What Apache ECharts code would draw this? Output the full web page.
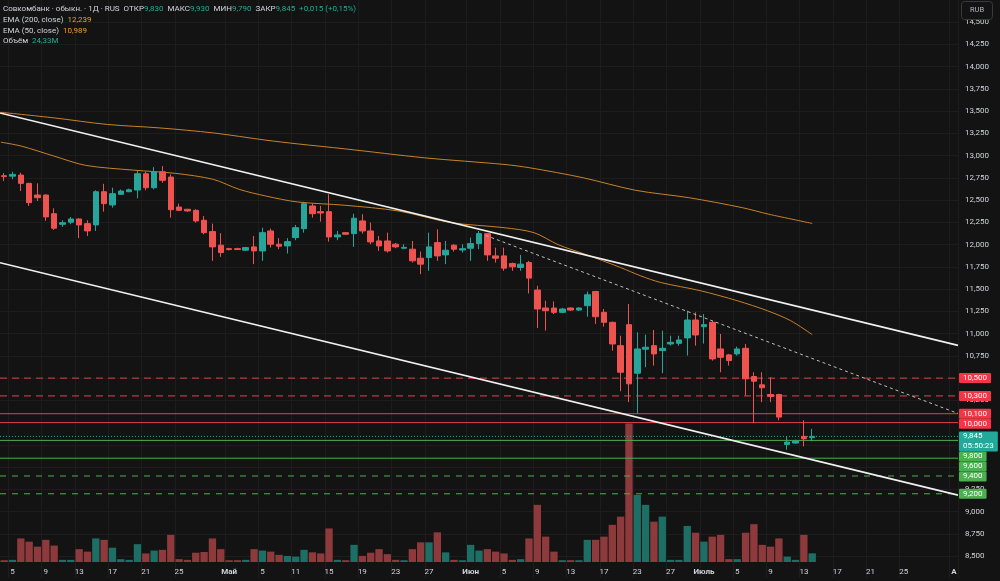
<!DOCTYPE html>
<html>
<head>
<meta charset="utf-8">
<title>Совкомбанк · 1Д</title>
<script src="https://cdn.jsdelivr.net/npm/echarts@6/dist/echarts.min.js"></script>
<style>
    html, body { margin: 0; padding: 0; background: #131313; }
    #chart { width: 1000px; height: 581px; }
</style>
</head>
<body>
<div id="chart"></div>
<script>
    // свечи по дням: [откр, закр, мин, макс]
    var candles = [
        [12775, 12765, 12715, 12805], [12770, 12790, 12735, 12820], [12782, 12689, 12603, 12808], [12689, 12472, 12435, 12696],
        [12558, 12528, 12491, 12689], [12558, 12312, 12267, 12565], [12348, 12185, 12166, 12409], [12229, 12247, 12200, 12274],
        [12252, 12289, 12230, 12311], [12289, 12222, 12073, 12295], [12236, 12155, 12098, 12274], [12222, 12595, 12154, 12611],
        [12595, 12461, 12371, 12684], [12446, 12573, 12416, 12640], [12566, 12603, 12560, 12620], [12595, 12617, 12590, 12630],
        [12614, 12797, 12521, 12835], [12797, 12640, 12611, 12819], [12640, 12819, 12622, 12872], [12819, 12723, 12696, 12883],
        [12760, 12393, 12304, 12790], [12423, 12386, 12379, 12461], [12398, 12379, 12370, 12400], [12386, 12267, 12248, 12398],
        [12274, 12135, 12117, 12323], [12147, 11975, 11818, 12236], [11994, 11911, 11863, 12129], [11955, 11945, 11935, 11965],
        [11955, 11945, 11940, 11965], [11938, 11967, 11930, 11975], [11975, 11930, 11781, 12098], [11930, 12135, 11818, 12191],
        [12154, 12005, 11967, 12180], [12005, 11983, 11949, 12073], [11986, 12034, 11900, 12073], [12079, 12191, 12050, 12222],
        [12180, 12461, 12135, 12483], [12435, 12348, 12304, 12461], [12371, 12356, 12259, 12435], [12371, 12087, 12034, 12566],
        [12087, 12110, 12050, 12154], [12135, 12117, 12110, 12140], [12124, 12297, 11975, 12348], [12267, 12154, 12124, 12342],
        [12154, 12031, 12005, 12248], [12042, 11986, 11930, 12098], [12042, 11930, 11911, 12135], [12005, 11975, 11960, 12020],
        [11960, 11970, 11950, 12005], [11949, 11818, 11799, 12042], [11848, 11781, 11669, 11922], [11855, 11975, 11706, 12135],
        [12023, 11874, 11818, 12173], [11885, 11938, 11781, 12042], [11994, 11949, 11922, 12005], [11940, 11955, 11910, 12005],
        [11960, 12012, 11818, 12080], [12012, 12124, 11949, 12154], [12124, 11885, 11818, 12130], [11874, 11848, 11799, 11967],
        [11874, 11736, 11706, 11967], [11788, 11751, 11706, 11799], [11743, 11781, 11706, 11885], [11799, 11624, 11452, 11818],
        [11490, 11277, 11064, 11538], [11288, 11258, 11034, 11370], [11288, 11239, 11220, 11362], [11239, 11277, 11230, 11290],
        [11288, 11265, 11255, 11295], [11265, 11288, 11255, 11295], [11314, 11437, 11190, 11474], [11474, 11190, 11109, 11480],
        [11239, 11127, 11078, 11277], [11127, 10884, 10809, 11135], [10865, 10566, 10353, 10977], [11101, 10436, 10230, 11333],
        [10555, 10828, 10100, 11015], [10825, 10847, 10622, 10989], [10865, 10772, 10641, 11041], [10809, 10835, 10555, 11034],
        [10884, 10902, 10865, 10977], [10891, 10929, 10865, 10977], [10952, 11153, 10753, 11258], [11153, 10985, 10865, 11239],
        [11078, 11101, 10888, 11220], [11127, 10716, 10697, 11138], [10828, 10734, 10566, 10996], [10761, 10697, 10641, 10772],
        [10772, 10828, 10753, 10854], [10835, 10492, 10305, 10884], [10518, 10465, 9994, 10566], [10425, 10392, 10230, 10566],
        [10316, 10294, 10230, 10510], [10316, 10062, 10025, 10324], [9755, 9781, 9696, 9845], [9770, 9792, 9763, 9808],
        [9845, 9819, 9733, 10025], [9830, 9845, 9790, 9930]
    ];
    // объём, млн
    var volumes = [
        5, 6, 66, 57, 43, 62, 46, 6, 6, 36, 29, 66, 62, 40, 8, 6, 50, 24, 32, 34,
        76, 8, 6, 26, 28, 66, 36, 5, 5, 6, 36, 32, 29, 20, 17, 15, 34, 27, 24, 94,
        6, 5, 48, 17, 26, 36, 22, 6, 5, 36, 55, 55, 83, 27, 6, 5, 48, 32, 36, 29,
        24, 6, 8, 66, 160, 71, 29, 5, 5, 5, 62, 62, 71, 104, 127, 388, 188, 160, 113, 127,
        6, 6, 101, 82, 57, 71, 76, 8, 8, 82, 106, 48, 43, 66, 15, 6, 76, 24.33
    ];
    // EMA: [номер бара, цена]
    var ema200 = [[-0.4, 13488], [6.0, 13425], [12.4, 13351], [18.7, 13312], [25.1, 13256], [31.4, 13175],
        [35.2, 13133], [40.9, 13077], [50.5, 12976], [60.0, 12902], [63.1, 12864], [69.5, 12752],
        [75.8, 12611], [82.2, 12528], [88.6, 12416], [91.8, 12342], [97, 12239]];
    var ema50 = [[-0.4, 13152], [2.1, 13107], [6.0, 12995], [9.8, 12891], [15.5, 12838], [20.6, 12801],
        [25.1, 12734], [28.2, 12622], [31.4, 12547], [35.2, 12480], [40.9, 12443], [47.3, 12379],
        [53.6, 12248], [60.0, 12191], [63.6, 12135], [66.5, 12000], [69.6, 11897], [74.0, 11743],
        [76.4, 11650], [78.8, 11575], [83.6, 11482], [88.0, 11370], [91.6, 11258], [94.4, 11146], [97, 10989]];
    // трендовые линии
    var channelTop = [[-0.5, 13480], [114.5, 10868]];
    var channelBottom = [[-0.5, 11797], [114.5, 9185]];
    var trendDashed = [[57.8, 12104], [114.5, 10103]];
    // уровни
    var redDashed = [10500, 10300];
    var redSolid = [10100, 10000];
    var greenSolid = [9800, 9600];
    var greenDashed = [9400, 9200];
    var lastPrice = 9845;
    var countdown = '05:50:23';
    // подписи оси времени
    var barCount = 115;
    var tickIndex = [1, 5, 9, 13, 17, 21, 27, 31, 35, 39, 43, 47, 51, 56, 60, 64, 68, 72, 76, 80, 84, 88, 92, 96, 100, 104, 108, 114];
    var tickText = ['5', '9', '13', '17', '21', '25', 'Май', '5', '11', '15', '19', '23', '27', 'Июн', '5', '9', '13', '17', '23', '27', 'Июль', '5', '9', '13', '17', '21', '25', 'А'];

    var UP = '#26a69a', DOWN = '#ef5350';
    var FONT = 'Roboto, "Noto Sans", sans-serif';

    var cats = [];
    for (var i = 0; i < barCount; i++) cats.push(String(i));
    var tickMap = {};
    tickIndex.forEach(function (idx, k) { tickMap[idx] = tickText[k]; });
    var isTick = function (idx) { return tickMap[idx] !== undefined; };

    var volData = volumes.map(function (v, k) {
        var c = candles[k];
        return { value: v, itemStyle: { color: c[1] >= c[0] ? '#1d6e64' : '#8e3a3c' } };
    });

    function fmt(v) { return String(v).replace(/\B(?=(\d{3})+(?!\d))/g, ','); }

    // горизонтальный уровень во всю ширину
    function level(price, color, type) {
        return {
            type: 'line', xAxisIndex: 2, yAxisIndex: 0, symbol: 'none', z: 3, silent: true,
            data: [[-0.5, price], [barCount - 0.5, price]],
            lineStyle: { color: color, width: 1, type: type }
        };
    }

    function trend(points, color, width, type) {
        return {
            type: 'line', xAxisIndex: 2, yAxisIndex: 0, data: points, symbol: 'none', z: 5, silent: true,
            lineStyle: { color: color, width: width, type: type }
        };
    }

    var series = [
        {
            name: 'Объём', type: 'bar', xAxisIndex: 1, yAxisIndex: 1, data: volData,
            barWidth: '88%', z: 1, silent: true
        }
    ];
    redDashed.forEach(function (p) { series.push(level(p, '#e0424d', [7, 5])); });
    redSolid.forEach(function (p) { series.push(level(p, '#e0424d', 'solid')); });
    greenSolid.forEach(function (p) { series.push(level(p, '#4caf50', 'solid')); });
    greenDashed.forEach(function (p) { series.push(level(p, '#4caf50', [6, 6])); });
    series.push(level(lastPrice, '#26a69a', [1, 2]));
    series.push({
        name: 'Совкомбанк', type: 'candlestick', xAxisIndex: 0, yAxisIndex: 0, data: candles,
        barWidth: 6, z: 4,
        itemStyle: { color: UP, color0: DOWN, borderColor: UP, borderColor0: DOWN, borderWidth: 1 }
    });
    series.push({
        name: 'EMA 200', type: 'line', xAxisIndex: 2, yAxisIndex: 0, data: ema200, smooth: 0.3,
        symbol: 'none', z: 3, silent: true, lineStyle: { color: '#c98229', width: 1 }
    });
    series.push({
        name: 'EMA 50', type: 'line', xAxisIndex: 2, yAxisIndex: 0, data: ema50, smooth: 0.3,
        symbol: 'none', z: 3, silent: true, lineStyle: { color: '#c98229', width: 1 }
    });
    series.push(trend(channelTop, '#f0f0f0', 1.6, 'solid'));
    series.push(trend(channelBottom, '#f0f0f0', 1.6, 'solid'));
    series.push(trend(trendDashed, '#bdbdbd', 1, [3, 3]));

    var myChart = echarts.init(document.getElementById('chart'));
    var option = {
        backgroundColor: '#131313',
        animation: false,
        grid: [
            { left: -1, right: 42, top: -1.5, bottom: 2.7 },
            { left: -1, right: 42, bottom: 19, height: 160 }
        ],
        xAxis: [
            {
                type: 'category', gridIndex: 0, data: cats, boundaryGap: true,
                axisLine: { show: false }, axisTick: { show: false }, axisLabel: { show: false },
                splitLine: { show: true, interval: isTick, lineStyle: { color: '#1d1d1d', width: 1 } }
            },
            {
                type: 'category', gridIndex: 1, data: cats, boundaryGap: true,
                axisLine: { show: false }, axisTick: { show: false }, splitLine: { show: false },
                axisLabel: {
                    interval: isTick, margin: 6, color: '#d1d4dc', fontSize: 8, fontFamily: FONT,
                    formatter: function (val, idx) {
                        var t = tickMap[idx];
                        if (t === undefined) return '';
                        return /^\d+$/.test(t) ? t : '{m|' + t + '}';
                    },
                    rich: { m: { fontWeight: 'bold', fontSize: 8, color: '#d1d4dc', fontFamily: FONT } }
                }
            },
            { type: 'value', gridIndex: 0, min: -0.5, max: barCount - 0.5, show: false }
        ],
        yAxis: [
            {
                type: 'value', gridIndex: 0, position: 'right', min: 8250, max: 14750, interval: 250,
                axisLine: { show: false }, axisTick: { show: false },
                axisLabel: {
                    margin: 7, color: '#d1d4dc', fontSize: 8, fontFamily: FONT,
                    formatter: function (v) { return (v <= 8250 || v >= 14750) ? '' : fmt(v); }
                },
                splitLine: { show: true, showMinLine: false, showMaxLine: false, lineStyle: { color: '#1d1d1d', width: 1 } }
            },
            { type: 'value', gridIndex: 1, min: 0, max: 448, show: false }
        ],
        series: series
    };
    myChart.setOption(option);

    // ценовые метки справа, раздвигаются как в TradingView
    var tags = [].concat(
        redDashed.map(function (p) { return { price: p, text: fmt(p), color: '#f23645' }; }),
        redSolid.map(function (p) { return { price: p, text: fmt(p), color: '#f23645' }; }),
        [{ price: lastPrice, text: fmt(lastPrice) + '\n' + countdown, color: '#22a999' }],
        greenSolid.map(function (p) { return { price: p, text: fmt(p), color: '#4caf50' }; }),
        greenDashed.map(function (p) { return { price: p, text: fmt(p), color: '#4caf50' }; })
    ).sort(function (a, b) { return b.price - a.price; });

    var lh = 10;
    var prevBottom = -1e9;
    var graphics = [];
    tags.forEach(function (t) {
        var lines = t.text.split('\n').length;
        var y = myChart.convertToPixel({ yAxisIndex: 0 }, t.price);
        var top = Math.max(y - lh / 2, prevBottom);
        prevBottom = top + lh * lines;
        graphics.push({
            type: 'text', x: 959, y: top, z: 100,
            style: {
                text: t.text, fill: '#ffffff', fontSize: 8, fontFamily: FONT, lineHeight: lh,
                backgroundColor: t.color, padding: [0, 4], verticalAlign: 'top', borderRadius: 1
            }
        });
    });

    // плашка валюты, перекрывает верхнюю подпись шкалы
    graphics.push({
        type: 'rect', shape: { x: 961.5, y: 1.5, width: 31, height: 18, r: 3 }, z: 100,
        style: { fill: '#131313', stroke: '#3a3a3a', lineWidth: 1 }
    });
    graphics.push({
        type: 'text', x: 977, y: 10.5, z: 101,
        style: { text: 'RUB', fill: '#b2b5be', fontSize: 7.5, fontFamily: FONT, align: 'center', verticalAlign: 'middle' }
    });

    // легенда
    var lbl = { fill: '#d1d4dc', fontSize: 8, fontFamily: FONT };
    var teal = { fill: '#22ab94', fontSize: 8, fontFamily: FONT };
    var orange = { fill: '#f29d26', fontSize: 8, fontFamily: FONT };
    var legendLines = [
        '{l|Совкомбанк · обыкн. · 1Д · RUS  ОТКР}{v|9,830}{l|  МАКС}{v|9,930}{l|  МИН}{v|9,790}{l|  ЗАКР}{v|9,845}{v|  +0,015 (+0,15%)}',
        '{l|EMA (200, close)  }{o|12,239}',
        '{l|EMA (50, close)  }{o|10,989}',
        '{l|Объём  }{v|24,33M}'
    ];
    var legendY = [8.5, 20, 30.5, 41];
    legendLines.forEach(function (s, k) {
        graphics.push({
            type: 'text', x: 3, y: legendY[k], z: 100,
            style: { text: s, verticalAlign: 'middle', rich: { l: lbl, v: teal, o: orange } }
        });
    });

    myChart.setOption({ graphic: graphics });
</script>
</body>
</html>
